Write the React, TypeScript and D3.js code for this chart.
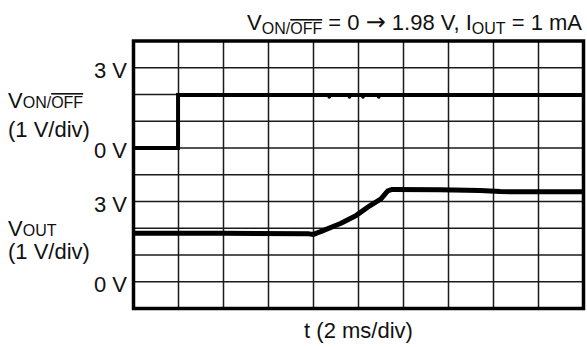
import React, { useRef, useEffect } from 'react';
import * as d3 from 'd3';

const WIDTH = 587;
const HEIGHT = 347;

// scope screen: 10 x 10 divisions, time base 2 ms/div
const timeTicks = [0, 2, 4, 6, 8, 10, 12, 14, 16, 18, 20];
const rowDivs = [0, 1, 2, 3, 4, 5, 6, 7, 8, 9, 10];

// V_ON/OFF trace (ms, V)
const vonTime = [0, 1.98, 1.98, 20];
const vonVolts = [0, 0, 1.98, 1.98];
const vonGlitchTimes = [8.7, 9.6, 10.2, 10.9];

// V_OUT trace (ms, V)
const voutTime = [0, 4, 7.8, 8.0, 8.4, 9.2, 9.9, 10.5, 11.0, 11.3, 11.5, 13.6, 15.4, 16.3, 20];
const voutVolts = [1.81, 1.81, 1.79, 1.77, 1.9, 2.18, 2.48, 2.84, 3.1, 3.4, 3.45, 3.44, 3.41, 3.37, 3.36];

const FONT = '"Liberation Sans", Arial, sans-serif';

const App: React.FC = () => {
  const svgRef = useRef<SVGSVGElement>(null);

  useEffect(() => {
    const svgEl = svgRef.current;
    if (!svgEl) return;
    const svg = d3.select(svgEl);
    svg.selectAll('*').remove();

    const x = d3.scaleLinear().domain([0, 20]).range([133.5, 583.5]);
    const row = d3.scaleLinear().domain([0, 10]).range([41, 308.5]);
    const yTop = d3.scaleLinear().domain([0, 3]).range([row(4), row(1)]);
    const yBot = d3.scaleLinear().domain([0, 3]).range([row(9), row(6)]);

    /* ---------- grid ---------- */
    const grid = svg.append('g').attr('stroke', '#1a1a1a').attr('stroke-width', 1.5);
    grid
      .selectAll('line.v')
      .data(timeTicks.slice(1, -1))
      .enter()
      .append('line')
      .attr('x1', d => x(d))
      .attr('x2', d => x(d))
      .attr('y1', row(0))
      .attr('y2', row(10));
    grid
      .selectAll('line.h')
      .data(rowDivs.slice(1, -1))
      .enter()
      .append('line')
      .attr('x1', x(0))
      .attr('x2', x(20))
      .attr('y1', d => row(d))
      .attr('y2', d => row(d));

    svg
      .append('rect')
      .attr('x', x(0))
      .attr('y', row(0))
      .attr('width', x(20) - x(0))
      .attr('height', row(10) - row(0))
      .attr('fill', 'none')
      .attr('stroke', '#000')
      .attr('stroke-width', 3.5);

    /* ---------- traces ---------- */
    const vonLine = d3
      .line<number>()
      .x(i => x(vonTime[i]))
      .y(i => yTop(vonVolts[i]));
    svg
      .append('path')
      .attr('d', vonLine(d3.range(vonTime.length)))
      .attr('fill', 'none')
      .attr('stroke', '#000')
      .attr('stroke-width', 4);

    svg
      .selectAll('circle.glitch')
      .data(vonGlitchTimes)
      .enter()
      .append('circle')
      .attr('cx', d => x(d))
      .attr('cy', yTop(1.98) + 2)
      .attr('r', 1.8)
      .attr('fill', '#000');

    const voutLine = d3
      .line<number>()
      .x(i => x(voutTime[i]))
      .y(i => yBot(voutVolts[i]));
    svg
      .append('path')
      .attr('d', voutLine(d3.range(voutTime.length)))
      .attr('fill', 'none')
      .attr('stroke', '#000')
      .attr('stroke-width', 5)
      .attr('stroke-linejoin', 'round');

    /* ---------- labels ---------- */
    const txt = svg.append('g').attr('font-family', FONT).attr('fill', '#111');

    const voltLabels = [
      { y: yTop(3), t: '3 V' },
      { y: yTop(0), t: '0 V' },
      { y: yBot(3), t: '3 V' },
      { y: yBot(0), t: '0 V' },
    ];
    txt
      .selectAll('text.volt')
      .data(voltLabels)
      .enter()
      .append('text')
      .attr('x', 127)
      .attr('y', d => d.y + 10)
      .attr('text-anchor', 'end')
      .attr('font-size', 22)
      .text(d => d.t);

    // channel names
    const von = txt.append('text').attr('x', 8).attr('y', 108).attr('font-size', 22);
    von.append('tspan').text('V');
    von.append('tspan').attr('font-size', 16).text('ON/');
    von.append('tspan').attr('font-size', 16).style('text-decoration', 'overline').text('OFF');
    txt.append('text').attr('x', 8).attr('y', 137).attr('font-size', 22).text('(1 V/div)');

    const vout = txt.append('text').attr('x', 8).attr('y', 236).attr('font-size', 22);
    vout.append('tspan').text('V');
    vout.append('tspan').attr('font-size', 16).text('OUT');
    txt.append('text').attr('x', 8).attr('y', 259).attr('font-size', 22).text('(1 V/div)');

    // title
    const title = txt
      .append('text')
      .attr('x', 582)
      .attr('y', 30)
      .attr('text-anchor', 'end')
      .attr('font-size', 22);
    title.append('tspan').text('V');
    title.append('tspan').attr('font-size', 16).attr('dy', 4).text('ON/');
    title.append('tspan').attr('font-size', 16).style('text-decoration', 'overline').text('OFF');
    title.append('tspan').attr('dy', -4).text(' = 0 ');
    title.append('tspan').attr('font-family', '"DejaVu Sans", sans-serif').attr('font-size', 24).text('\u2192');
    title.append('tspan').text(' 1.98 V, I');
    title.append('tspan').attr('font-size', 16).attr('dy', 4).text('OUT');
    title.append('tspan').attr('dy', -4).text(' = 1 mA');

    // x axis label
    txt
      .append('text')
      .attr('x', x(10))
      .attr('y', 338)
      .attr('text-anchor', 'middle')
      .attr('font-size', 22)
      .text('t (2 ms/div)');
  }, []);

  return (
    <div style={{ position: 'fixed', left: 0, top: 0, width: WIDTH, height: HEIGHT, background: '#fff' }}>
      <svg ref={svgRef} width={WIDTH} height={HEIGHT} />
    </div>
  );
};

export default App;
